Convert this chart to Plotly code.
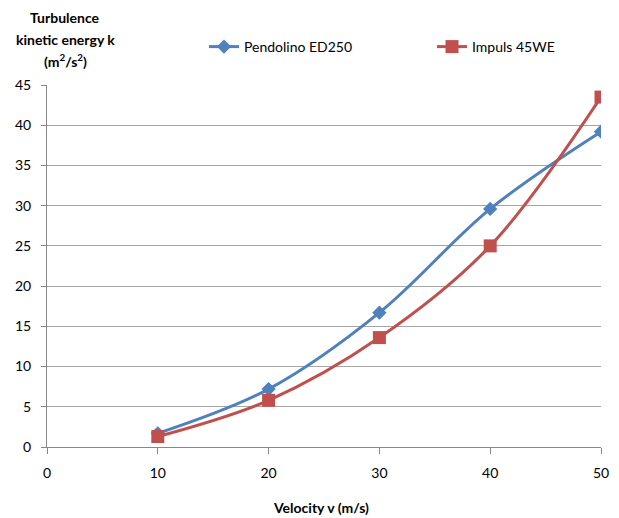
import plotly.graph_objects as go

velocity = [10, 20, 30, 40, 50]
pendolino = [1.7, 7.2, 16.7, 29.6, 39.2]
impuls = [1.3, 5.8, 13.6, 25.0, 43.5]
x_ticks = [0, 10, 20, 30, 40, 50]
y_ticks = [0, 5, 10, 15, 20, 25, 30, 35, 40, 45]
title_lines = ["<b>Turbulence</b>", "<b>kinetic energy k</b>",
               "<b>(m<sup>2</sup>/s<sup>2</sup>)</b>"]

FONT = "Lato"

fig = go.Figure()
fig.add_trace(go.Scatter(
    x=velocity, y=pendolino, name="Pendolino ED250", legend="legend",
    mode="lines+markers", line=dict(color="#4F81BD", width=3, shape="spline"),
    marker=dict(symbol="diamond", size=11, color="#4F81BD")))
fig.add_trace(go.Scatter(
    x=velocity, y=impuls, name="Impuls 45WE", legend="legend2",
    mode="lines+markers", line=dict(color="#C0504D", width=3, shape="spline"),
    marker=dict(symbol="square", size=13, color="#C0504D")))

leg_common = dict(orientation="h", yref="container", xref="container",
                  xanchor="left", yanchor="middle", font=dict(size=14, family=FONT),
                  bgcolor="rgba(0,0,0,0)", itemwidth=30)

annotations = []
for i, (txt, yc) in enumerate(zip(title_lines, [18, 40, 60])):
    annotations.append(dict(text=txt, xref="paper", yref="paper",
                            x=(65 - 47) / 554, y=(447 - yc) / 362,
                            xanchor="center", yanchor="middle", showarrow=False,
                            font=dict(size=14, family=FONT)))
annotations.append(dict(text="<b>Velocity v (m/s)</b>", xref="paper", yref="paper",
                        x=(321 - 47) / 554, y=(447 - 507) / 362, xanchor="center",
                        yanchor="middle", showarrow=False,
                        font=dict(size=14, family=FONT)))

fig.update_layout(
    width=619, height=518,
    margin=dict(l=47, r=18, t=85, b=71, autoexpand=False),
    plot_bgcolor="white", paper_bgcolor="white",
    font=dict(family=FONT, size=14, color="#000000"),
    showlegend=True,
    legend=dict(x=204 / 619, y=1 - 47 / 518, **leg_common),
    legend2=dict(x=432 / 619, y=1 - 47 / 518, **leg_common),
    xaxis=dict(range=[0, 50], tickvals=x_ticks, showgrid=False, zeroline=False,
               showline=True, linecolor="#888888", linewidth=1,
               ticks="outside", ticklen=6, tickcolor="#888888",
               ticklabelstandoff=7,
               tickfont=dict(size=14, family=FONT)),
    yaxis=dict(range=[0, 45], tickvals=y_ticks, showgrid=True, gridcolor="#A6A6A6",
               gridwidth=1, zeroline=False, showline=True, linecolor="#888888",
               linewidth=1, ticks="outside", ticklen=5, tickcolor="#888888",
               ticklabelstandoff=7,
               tickfont=dict(size=14, family=FONT)),
    annotations=annotations,
)
fig.write_html("out.html")
